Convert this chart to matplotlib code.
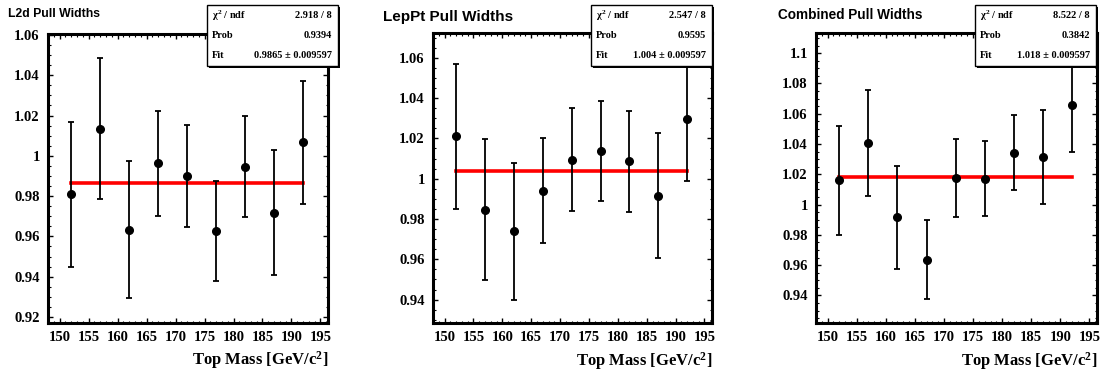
import matplotlib
matplotlib.use("Agg")
import matplotlib.pyplot as plt
from matplotlib.patches import Rectangle
from matplotlib.ticker import MultipleLocator

# top-mass sample points and the shared per-point pull-width uncertainties
masses = [152, 157, 162, 167, 172, 177, 182, 187, 192]
errors = [0.036, 0.035, 0.034, 0.026, 0.0255, 0.025, 0.025, 0.031, 0.0306]

l2d_widths = [0.981, 1.0135, 0.9633, 0.9963, 0.990, 0.9627, 0.9947, 0.9718, 1.0068]
leppt_widths = [1.021, 0.9846, 0.9740, 0.9940, 1.0095, 1.0137, 1.0086, 0.9915, 1.0295]
combined_widths = [1.016, 1.0405, 0.9915, 0.9637, 1.0176, 1.0172, 1.0343, 1.0312, 1.0656]

titles = ["L2d Pull Widths", "LepPt Pull Widths", "Combined Pull Widths"]
fit_values = [0.9865, 1.004, 1.018]
fit_errors = [0.009597, 0.009597, 0.009597]
chi2 = ["2.918", "2.547", "8.522"]
ndf = [8, 8, 8]
probs = ["0.9394", "0.9595", "0.3842"]

W, H = 1107, 373
SERIF = "Liberation Serif"
SANS = "Liberation Sans"

plt.rcParams["mathtext.fontset"] = "custom"
plt.rcParams["mathtext.rm"] = "Liberation Serif:bold"
plt.rcParams["mathtext.it"] = "Liberation Serif:bold"
plt.rcParams["mathtext.bf"] = "Liberation Serif:bold"

# pixel layout of each pad: frame box, y-range, y ticks, title, stat box
pads = [
    dict(frame=(48, 34, 328, 323), ylim=(0.917, 1.0605), yticks=[0.92, 0.94, 0.96, 0.98, 1, 1.02, 1.04, 1.06],
         title_xy=(8, 14), title_size=8.8, box=(207, 5, 338, 66)),
    dict(frame=(433, 33, 712, 323), ylim=(0.9284, 1.0723), yticks=[0.94, 0.96, 0.98, 1, 1.02, 1.04, 1.06],
         title_xy=(383, 17), title_size=11.0, box=(591, 5, 712, 66)),
    dict(frame=(816, 33, 1097, 323), ylim=(0.9218, 1.1133), yticks=[0.94, 0.96, 0.98, 1, 1.02, 1.04, 1.06, 1.08, 1.1],
         title_xy=(778, 15), title_size=9.8, box=(975, 5, 1096, 66)),
]
series = [l2d_widths, leppt_widths, combined_widths]


def fmt_tick(v):
    s = f"{v:.2f}".rstrip("0").rstrip(".")
    return s


fig = plt.figure(figsize=(W / 100, H / 100), dpi=100)
fig.patch.set_facecolor("white")

for i, pad in enumerate(pads):
    x0, y0, x1, y1 = pad["frame"]
    ax = fig.add_axes([x0 / W, 1 - y1 / H, (x1 - x0) / W, (y1 - y0) / H])

    ax.errorbar(masses, series[i], yerr=errors, fmt="o", color="black", ms=5.5,
                elinewidth=1.3, capsize=2.2, capthick=1.3, zorder=3)
    ax.plot([masses[0], masses[-1]], [fit_values[i], fit_values[i]], color="#ff0000", lw=2.6, zorder=2)

    ax.set_xlim(148.0, 196.3)
    ax.set_ylim(*pad["ylim"])
    ax.set_xticks(range(150, 196, 5))
    ax.set_yticks(pad["yticks"])
    ax.set_yticklabels([fmt_tick(v) for v in pad["yticks"]])
    ax.xaxis.set_minor_locator(MultipleLocator(1))
    ax.yaxis.set_minor_locator(MultipleLocator(0.005))
    ax.tick_params(which="both", direction="in", top=True, right=True)
    ax.tick_params(which="major", length=3.5, width=1.0, pad=6)
    ax.tick_params(which="minor", length=1.8, width=0.8)
    for lab in ax.get_xticklabels() + ax.get_yticklabels():
        lab.set_fontfamily(SERIF)
        lab.set_fontweight("bold")
        lab.set_fontsize(10.5)
    for sp in ax.spines.values():
        sp.set_linewidth(2.2)

    ax.text(1.0, -0.092, r"Top Mass [GeV/c$^{2}$]", transform=ax.transAxes, ha="right", va="top",
            fontfamily=SERIF, fontweight="bold", fontsize=12)

    # pad title
    tx, ty = pad["title_xy"]
    fig.text(tx / W, 1 - ty / H, titles[i], ha="left", va="center",
             fontfamily=SANS, fontweight="bold", fontsize=pad["title_size"])

    # fit statistics box with a small drop shadow
    bx0, by0, bx1, by1 = pad["box"]
    fig.patches.append(Rectangle((bx0 / W + 1.5 / W, 1 - by1 / H - 1.5 / H), (bx1 - bx0) / W, (by1 - by0) / H,
                                 transform=fig.transFigure, facecolor="black", edgecolor="none", zorder=5))
    fig.patches.append(Rectangle((bx0 / W, 1 - by1 / H), (bx1 - bx0) / W, (by1 - by0) / H,
                                 transform=fig.transFigure, facecolor="white", edgecolor="black", lw=1.0, zorder=6))
    rows = [(r"$\chi^{2}$ / ndf", f"{chi2[i]} / {ndf[i]}"),
            ("Prob", probs[i]),
            ("Fit", f"{fit_values[i]:g} ± {fit_errors[i]:g}")]
    for r, (left, right) in enumerate(rows):
        yy = 1 - (by0 + 11 + r * 19.5) / H
        fig.text((bx0 + 5) / W, yy, left, ha="left", va="center", fontfamily=SERIF,
                 fontweight="bold", fontsize=7.5, zorder=7)
        fig.text((bx1 - 6) / W, yy, right, ha="right", va="center", fontfamily=SERIF,
                 fontweight="bold", fontsize=7.5, zorder=7)

fig.savefig("out.png", dpi=100)
